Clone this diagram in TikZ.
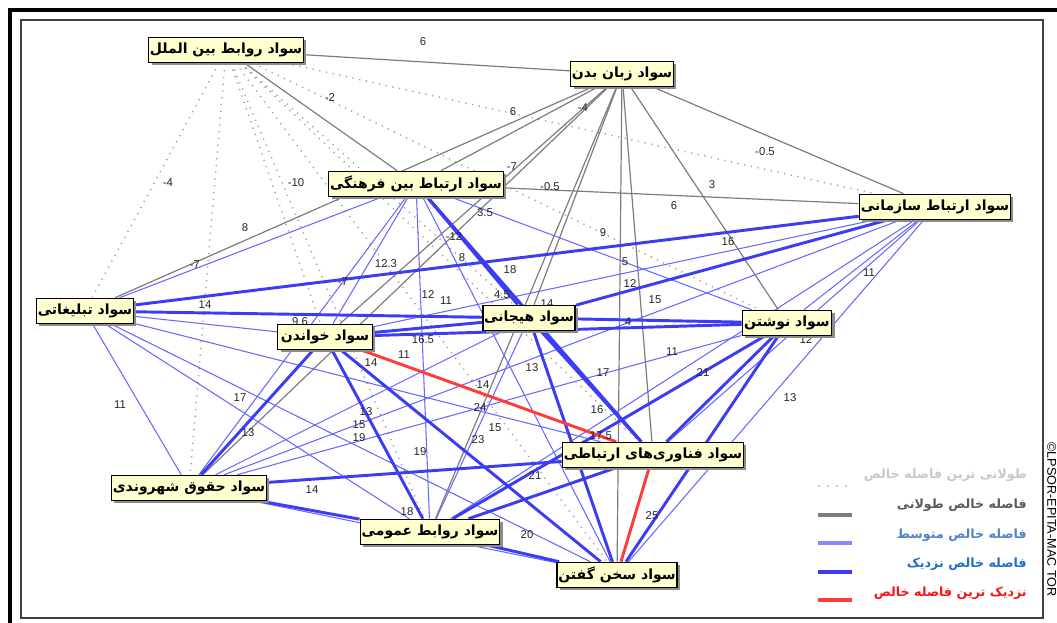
\documentclass[tikz,border=0pt]{standalone}
\usepackage{fontspec}
\setmainfont{Liberation Sans}
\newfontfamily\arabicfont[Script=Arabic]{DejaVu Sans}
\TeXXeTstate=1
\usetikzlibrary{shadows,backgrounds}
\definecolor{boxfill}{RGB}{255,255,208}
\definecolor{dotc}{RGB}{160,160,160}
\definecolor{grayc}{RGB}{125,125,125}
\definecolor{midc}{RGB}{105,105,255}
\definecolor{nearc}{RGB}{60,60,245}
\definecolor{redc}{RGB}{255,60,60}
\definecolor{lgtxtA}{RGB}{200,200,200}
\definecolor{lgtxtB}{RGB}{90,90,90}
\definecolor{lgtxtC}{RGB}{80,130,205}
\definecolor{lgtxtD}{RGB}{30,110,205}
\definecolor{lgtxtE}{RGB}{250,20,20}
\newcommand{\fa}[1]{\arabicfont\bfseries\beginR #1\endR}
\begin{document}
\begin{tikzpicture}[x=0.75pt,y=-0.75pt,
 lit/.style={draw=black, line width=1.2pt, fill=boxfill, inner sep=1pt, minimum height=18.75pt,
   font=\fontsize{10.5}{12}\selectfont,
   drop shadow={shadow xshift=2.2pt, shadow yshift=-2.2pt, fill=black!45, opacity=1}},
 ldot/.style={draw=dotc, line width=1.1pt, dash pattern=on 0.9pt off 4.2pt},
 lgray/.style={draw=grayc, line width=0.9pt},
 lmid/.style={draw=midc, line width=0.8pt},
 lnear/.style={draw=nearc, line width=2.2pt},
 lred/.style={draw=redc, line width=2.2pt},
 val/.style={font=\fontsize{8.5}{9}\selectfont, text=black!85, inner sep=0pt},
 legtxt/.style={anchor=east, inner sep=0pt, font=\fontsize{9.5}{11}\selectfont},
 legline/.style={line width=2.4pt}
]
\useasboundingbox (0,0) rectangle (1057,623);

% nodes
\node[lit, minimum width=110pt] (R) at (226,50) {\fa{سواد روابط بین الملل}};
\node[lit, minimum width=76pt] (Z) at (622,74) {\fa{سواد زبان بدن}};
\node[lit, minimum width=122pt] (F) at (416,184) {\fa{سواد ارتباط بین فرهنگی}};
\node[lit, minimum width=109pt] (S) at (935,207) {\fa{سواد ارتباط سازمانی}};
\node[lit, minimum width=70pt] (T) at (85,311) {\fa{سواد تبلیغاتی}};
\node[lit, minimum width=67.5pt] (H) at (529,318) {\fa{سواد هیجانی}};
\node[lit, minimum width=67pt] (N) at (787,323) {\fa{سواد نوشتن}};
\node[lit, minimum width=71pt] (K) at (325,337) {\fa{سواد خواندن}};
\node[lit, minimum width=130pt] (A) at (653,455) {\fa{سواد فناوری‌های ارتباطی}};
\node[lit, minimum width=111pt] (Q) at (189,488) {\fa{سواد حقوق شهروندی}};
\node[lit, minimum width=101pt] (U) at (430,532) {\fa{سواد روابط عمومی}};
\node[lit, minimum width=82.5pt] (G) at (617,575) {\fa{سواد سخن گفتن}};

\begin{pgfonlayer}{background}
% frame
\draw[line width=3pt] (10,623) -- (10,10) -- (1057,10);
\draw[draw=black!75, line width=1.3pt] (21,20) rectangle (1043,618);
% dotted (longest)
\foreach \b in {S,T,H,N,K,A,Q,U,G} \draw[ldot] (R) -- (\b);
% gray (long)
\draw[lgray] (R) -- (Z);
\draw[lgray] (R) -- (F);
\foreach \b in {F,S,T,H,N,K,A,Q,U,G} \draw[lgray] (Z) -- (\b);
\draw[lgray] (F) -- (S);
% thin blue (medium)
\foreach \a/\b in {F/T,F/N,F/K,F/Q,F/U,F/G,S/N,S/A,S/Q,S/U,S/G,S/K,T/N,T/K,T/A,T/Q,T/U,T/G,H/Q,H/U,N/Q,Q/G}
  \draw[lmid] (\a) -- (\b);
% thick blue (near)
\foreach \a/\b in {T/S,T/H,S/H,F/H,F/A,H/N,H/K,H/A,H/G,N/K,N/A,N/G,N/U,K/Q,K/U,K/G,Q/A,Q/U,U/A,U/G}
  \draw[lnear] (\a) -- (\b);
% red (nearest)
\draw[lred] (K) -- (A);
\draw[lred] (A) -- (G);

% values
\node[val] (v1) at (423,42) {6};
\node[val] (v2) at (330,98) {-2};
\node[val] (v3) at (513,112) {6};
\node[val] (v4) at (583,108) {-4};
\node[val] (v5) at (765,152) {-0.5};
\node[val] (v6) at (168,183) {-4};
\node[val] (v7) at (296,183) {-10};
\node[val] (v8) at (512,167) {-7};
\node[val] (v9) at (550,187) {-0.5};
\node[val] (v10) at (712,185) {3};
\node[val] (v11) at (674,206) {6};
\node[val] (v12) at (245,228) {8};
\node[val] (v13) at (195,265) {-7};
\node[val] (v14) at (485,213) {3.5};
\node[val] (v15) at (454,237) {-12};
\node[val] (v16) at (603,233) {9};
\node[val] (v17) at (728,242) {16};
\node[val] (v18) at (386,264) {12.3};
\node[val] (v19) at (343,282) {-7};
\node[val] (v20) at (462,258) {8};
\node[val] (v21) at (510,270) {18};
\node[val] (v22) at (625,262) {5};
\node[val] (v23) at (630,284) {12};
\node[val] (v24) at (428,295) {12};
\node[val] (v25) at (446,301) {11};
\node[val] (v26) at (502,295) {4.5};
\node[val] (v27) at (547,304) {14};
\node[val] (v28) at (655,300) {15};
\node[val] (v29) at (628,322) {4};
\node[val] (v30) at (205,305) {14};
\node[val] (v31) at (300,322) {9.6};
\node[val] (v32) at (423,340) {16.5};
\node[val] (v33) at (404,355) {11};
\node[val] (v34) at (371,363) {14};
\node[val] (v35) at (672,352) {11};
\node[val] (v36) at (703,373) {21};
\node[val] (v37) at (806,340) {12};
\node[val] (v38) at (603,373) {17};
\node[val] (v39) at (483,385) {14};
\node[val] (v40) at (532,368) {13};
\node[val] (v41) at (869,273) {11};
\node[val] (v42) at (790,398) {13};
\node[val] (v43) at (240,398) {17};
\node[val] (v44) at (120,405) {11};
\node[val] (v45) at (480,408) {24};
\node[val] (v46) at (597,410) {16};
\node[val] (v47) at (366,412) {13};
\node[val] (v48) at (359,425) {15};
\node[val] (v49) at (359,438) {19};
\node[val] (v50) at (248,433) {13};
\node[val] (v51) at (478,440) {23};
\node[val] (v52) at (495,428) {15};
\node[val] (v53) at (601,436) {17.5};
\node[val] (v54) at (420,452) {19};
\node[val] (v55) at (535,476) {21};
\node[val] (v56) at (312,490) {14};
\node[val] (v57) at (407,512) {18};
\node[val] (v58) at (527,535) {20};
\node[val] (v59) at (652,516) {25};
\end{pgfonlayer}

% legend
\coordinate (la1) at (818,486); \coordinate (lb1) at (852,486);
\coordinate (la2) at (818,515); \coordinate (lb2) at (852,515);
\coordinate (la3) at (818,543); \coordinate (lb3) at (852,543);
\coordinate (la4) at (818,572); \coordinate (lb4) at (852,572);
\coordinate (la5) at (818,600); \coordinate (lb5) at (852,600);
\draw[draw=lgtxtA, line width=1.6pt, dash pattern=on 1.4pt off 5.3pt] (la1) -- (lb1);
\draw[legline, draw=grayc] (la2) -- (lb2);
\draw[legline, draw=midc!80] (la3) -- (lb3);
\draw[legline, draw=nearc] (la4) -- (lb4);
\draw[legline, draw=redc] (la5) -- (lb5);
\node[legtxt, text=lgtxtA] (lt1) at (1027,475) {\fa{طولانی ترین فاصله خالص}};
\node[legtxt, text=lgtxtB] (lt2) at (1027,505) {\fa{فاصله خالص طولانی}};
\node[legtxt, text=lgtxtC] (lt3) at (1027,535) {\fa{فاصله خالص متوسط}};
\node[legtxt, text=lgtxtD] (lt4) at (1027,564) {\fa{فاصله خالص نزدیک}};
\node[legtxt, text=lgtxtE] (lt5) at (1027,593) {\fa{نزدیک ترین فاصله خالص}};

% side text
\node[rotate=-90, anchor=south west, inner sep=0pt, font=\fontsize{9.5}{10}\selectfont] (cpr) at (1047,442) {©LPSOR-EPITA-MAC TOR};
\end{tikzpicture}
\end{document}
